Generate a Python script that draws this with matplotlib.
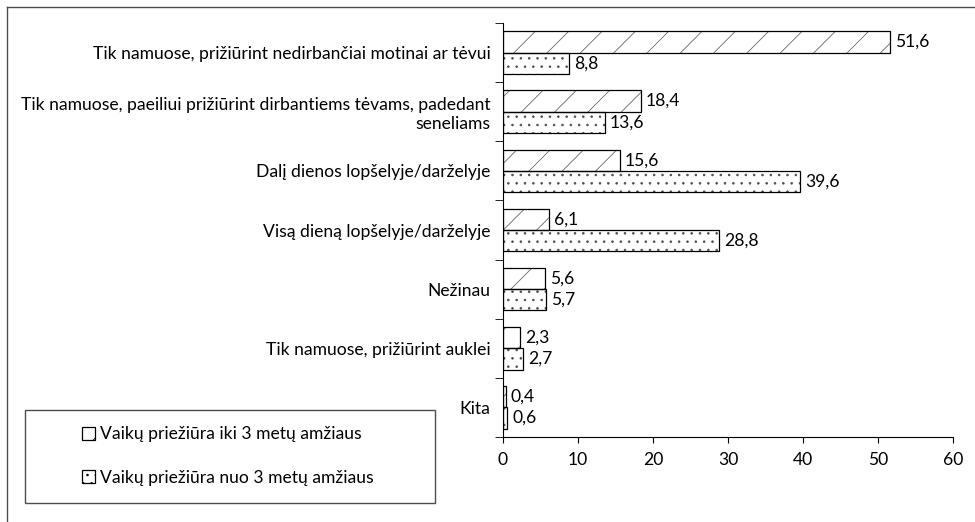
import matplotlib.pyplot as plt
import matplotlib.patches as mpatches
from matplotlib.lines import Line2D
import numpy as np

plt.rcParams['font.family'] = ['Lato', 'DejaVu Sans']
plt.rcParams['hatch.linewidth'] = 0.6

categories = ["Tik namuose, prižiūrint nedirbančiai motinai ar tėvui",
              "Tik namuose, paeiliui prižiūrint dirbantiems tėvams, padedant\nseneliams",
              "Dalį dienos lopšelyje/darželyje",
              "Visą dieną lopšelyje/darželyje",
              "Nežinau",
              "Tik namuose, prižiūrint auklei",
              "Kita"]
under3 = [51.6, 18.4, 15.6, 6.1, 5.6, 2.3, 0.4]
over3 = [8.8, 13.6, 39.6, 28.8, 5.7, 2.7, 0.6]
series_names = ["Vaikų priežiūra iki 3 metų amžiaus",
                "Vaikų priežiūra nuo 3 metų amžiaus"]

fs = 12.6

fig = plt.figure(figsize=(9.75, 5.22), dpi=100)
ax = fig.add_axes([503/975, 1-437/522, 450/975, 414/522])

y = np.arange(len(categories))
h = 0.36
# hatch in grey, outline in black drawn on top
ax.barh(y - h/2, under3, h, color='white', edgecolor='0.4', hatch='/', linewidth=0)
ax.barh(y + h/2, over3, h, color='white', edgecolor='0.3', hatch='..', linewidth=0)
b1 = ax.barh(y - h/2, under3, h, fill=False, edgecolor='black', linewidth=0.9)
b2 = ax.barh(y + h/2, over3, h, fill=False, edgecolor='black', linewidth=0.9)

for bars, vals in ((b1, under3), (b2, over3)):
    for bar, v in zip(bars, vals):
        ax.annotate(f"{v:.1f}".replace('.', ','),
                    (bar.get_width(), bar.get_y() + bar.get_height()/2),
                    xytext=(3.5, 0), textcoords='offset points',
                    va='center', ha='left', fontsize=fs)

ax.set_xlim(0, 60)
ax.set_ylim(len(categories) - 0.5, -0.5)
ax.set_xticks(range(0, 61, 10))
ax.tick_params(axis='x', direction='out', length=4, labelsize=fs, pad=7)
ax.set_yticks(y, categories, fontsize=fs)
ax.tick_params(axis='y', which='major', length=0, pad=9)
ax.set_yticks(np.arange(-0.5, len(categories)), minor=True)
ax.tick_params(axis='y', which='minor', length=6, direction='out')
for lbl in ax.get_yticklabels():
    lbl.set_multialignment('right')
for s in ('top', 'right'):
    ax.spines[s].set_visible(False)

# outer frame (top and left visible)
fig.add_artist(Line2D([7/975, 1], [1-7/522, 1-7/522], color='0.3', lw=1))
fig.add_artist(Line2D([7/975, 7/975], [0, 1-7/522], color='0.3', lw=1))

# legend box
fig.add_artist(mpatches.Rectangle((25/975, 1-503/522), 410/975, 93/522,
                                  transform=fig.transFigure, fill=False,
                                  edgecolor='0.3', lw=1))
handles = [mpatches.Patch(facecolor='white', edgecolor='black', hatch='/', lw=0.9),
           mpatches.Patch(facecolor='white', edgecolor='black', hatch='..', lw=0.9)]
fig.legend(handles, series_names, loc='center',
           bbox_to_anchor=(228/975, 1-456/522), frameon=False,
           fontsize=fs, handlelength=0.75, handleheight=0.75,
           handletextpad=0.3, labelspacing=1.55)

fig.savefig('out.png', dpi=100)
